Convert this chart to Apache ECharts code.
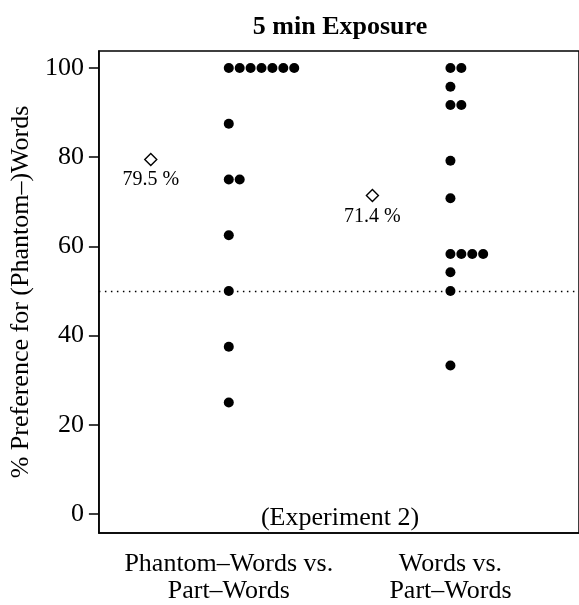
<!DOCTYPE html>
<html>
<head>
<meta charset="utf-8">
<script src="https://cdn.jsdelivr.net/npm/echarts@6/dist/echarts.min.js"></script>
<style>
  html, body { margin: 0; padding: 0; background: #fff; }
  #chart-container { width: 579px; height: 605px; }
</style>
</head>
<body>
<div id="chart-container"></div>
<script>
// categories (x positions 1 and 2)
const categories = ['Phantom\u2013Words vs.\nPart\u2013Words', 'Words vs.\nPart\u2013Words'];

// individual participant scores, % preference
const phantomVsPart = [100, 100, 100, 100, 100, 100, 100, 87.5, 75, 75, 62.5, 50, 37.5, 25];
const wordsVsPart = [100, 100, 95.8, 91.7, 91.7, 79.2, 70.8, 58.3, 58.3, 58.3, 58.3, 54.2, 50, 33.3];

// group means shown as diamonds
const meanVals = [79.5, 71.4];

const yTicks = [0, 20, 40, 60, 80, 100];
const chanceLevel = 50;

const font = 'Liberation Serif, Times New Roman, serif';
const dotStep = 0.0492;   // sideways offset for tied values
const meanOffset = 0.352; // diamonds sit left of the dot column

// stack tied values sideways, like a dot plot
const stackDots = (vals, idx) => {
	const seen = {};
	return vals.map(v => {
		const k = seen[v] || 0;
		seen[v] = k + 1;
		return [idx + k * dotStep, v];
	});
};

const myChart = echarts.init(document.getElementById('chart-container'));
const option = {
	animation: false,
	title: {
		text: '5 min Exposure',
		left: 340,
		top: 14,
		padding: 0,
		textAlign: 'center',
		textStyle: { fontFamily: font, fontSize: 26, fontWeight: 'bold', color: '#000' }
	},
	graphic: [{
		type: 'text',
		x: 340,
		y: 518,
		style: {
			text: '(Experiment 2)',
			align: 'center',
			verticalAlign: 'middle',
			fill: '#000',
			font: '26px ' + font
		}
	}],
	grid: {
		left: 98,
		right: -3,
		top: 51,
		bottom: 72,
		show: true,
		borderColor: '#000',
		borderWidth: 1.5,
		containLabel: false
	},
	xAxis: {
		type: 'value',
		min: 0.414,
		max: 2.58,
		axisLine: { show: true, onZero: false, lineStyle: { color: '#000', width: 1.5 } },
		axisTick: { show: false },
		splitLine: { show: false },
		axisLabel: {
			customValues: [1, 2],
			formatter: v => categories[Math.round(v) - 1],
			fontFamily: font,
			fontSize: 26,
			lineHeight: 27,
			color: '#000',
			margin: 18
		}
	},
	yAxis: {
		type: 'value',
		min: -4.26,
		max: 103.81,
		name: '% Preference for (Phantom\u2013)Words',
		nameLocation: 'middle',
		nameGap: 63,
		nameTextStyle: { fontFamily: font, fontSize: 26, color: '#000' },
		axisLine: { show: true, lineStyle: { color: '#000', width: 1.5 } },
		axisTick: { show: true, customValues: yTicks, length: 10, lineStyle: { color: '#000', width: 1.5 } },
		splitLine: { show: false },
		axisLabel: {
			customValues: yTicks,
			fontFamily: font,
			fontSize: 26,
			color: '#000',
			margin: 15
		}
	},
	series: [
		{
			name: 'Phantom-Words vs. Part-Words',
			type: 'scatter',
			symbol: 'circle',
			symbolSize: 10,
			itemStyle: { color: '#000', opacity: 1 },
			data: stackDots(phantomVsPart, 1),
			markLine: {
				silent: true,
				symbol: 'none',
				label: { show: false },
				lineStyle: { color: '#000', type: [1.5, 4.5], width: 1.3 },
				data: [{ yAxis: chanceLevel }]
			}
		},
		{
			name: 'Words vs. Part-Words',
			type: 'scatter',
			symbol: 'circle',
			symbolSize: 10,
			itemStyle: { color: '#000', opacity: 1 },
			data: stackDots(wordsVsPart, 2)
		},
		{
			name: 'Mean',
			type: 'scatter',
			symbol: 'diamond',
			symbolSize: [12, 12],
			itemStyle: { color: '#fff', borderColor: '#000', borderWidth: 1.4, opacity: 1 },
			label: {
				show: true,
				position: 'bottom',
				distance: 4,
				formatter: p => p.value[1].toFixed(1) + ' %',
				fontFamily: font,
				fontSize: 20,
				color: '#000'
			},
			data: meanVals.map((m, i) => [i + 1 - meanOffset, m])
		}
	]
};
myChart.setOption(option);
</script>
</body>
</html>
